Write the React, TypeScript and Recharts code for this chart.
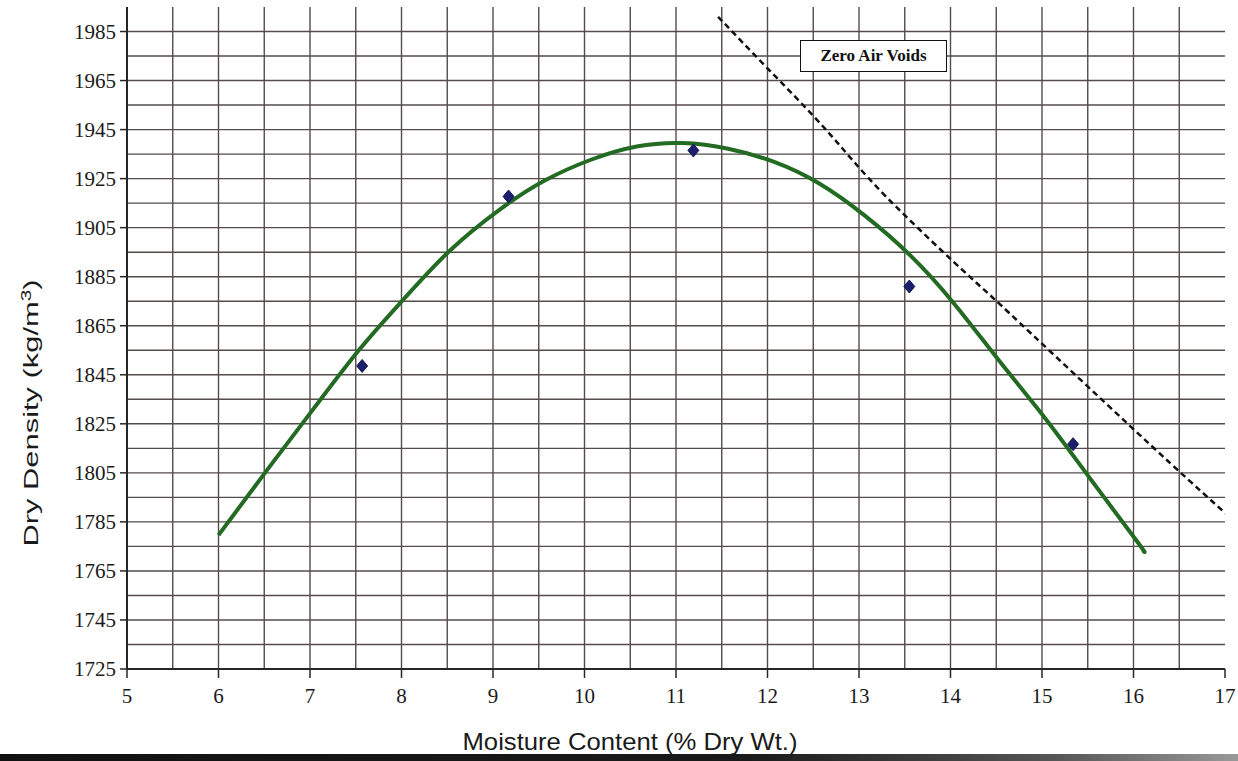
import React from 'react'
import {
  ComposedChart,
  Line,
  Scatter,
  XAxis,
  YAxis,
  ReferenceLine,
  Label,
} from 'recharts'

// axis ticks (labelled) and grid lines (every half unit / every 10 kg/m3)
const xTicks = [5, 6, 7, 8, 9, 10, 11, 12, 13, 14, 15, 16, 17]
const yTicks = [1725, 1745, 1765, 1785, 1805, 1825, 1845, 1865, 1885, 1905, 1925, 1945, 1965, 1985]
const gridX = [5.5, 6, 6.5, 7, 7.5, 8, 8.5, 9, 9.5, 10, 10.5, 11, 11.5, 12, 12.5, 13, 13.5, 14, 14.5, 15, 15.5, 16, 16.5]
const gridY = [1735, 1745, 1755, 1765, 1775, 1785, 1795, 1805, 1815, 1825, 1835, 1845, 1855, 1865, 1875, 1885, 1895, 1905, 1915, 1925, 1935, 1945, 1955, 1965, 1975, 1985]

// test results
const testMoisture = [7.57, 9.17, 11.19, 13.55, 15.34]
const testDensity = [1848.6, 1917.7, 1936.5, 1881, 1816.7]

// fitted compaction curve
const curveMoisture = [6.0, 6.53, 7.04, 7.54, 8.03, 8.53, 9.07, 9.57, 10.07, 10.57, 11.07, 11.57, 12.08, 12.57, 13.06, 13.56, 14.04, 14.53, 15.04, 15.54, 16.05, 16.1]
const curveDensity = [1779.6, 1806.1, 1831.2, 1855.3, 1876.1, 1895.7, 1912.3, 1924.3, 1932.7, 1938.1, 1939.5, 1937.2, 1931.7, 1922.9, 1910, 1893.7, 1874, 1850.8, 1827, 1802, 1776.5, 1773.5]

// zero air voids line
const zavMoisture = [11.46, 12.0, 12.65, 13.3, 14.21, 14.49, 15.42, 16.4, 17.02]
const zavDensity = [1991, 1970, 1944.5, 1917.5, 1885, 1875.5, 1843, 1809, 1788]

const testData = testMoisture.map((x, i) => ({ x, y: testDensity[i] }))
const curveData = curveMoisture.map((x, i) => ({ x, y: curveDensity[i] }))
const zavData = zavMoisture.map((x, i) => ({ x, y: zavDensity[i] }))

const gridColor = '#554b4b'
const axisColor = '#262626'

function Diamond({ cx, cy }: { cx?: number; cy?: number }) {
  if (cx == null || cy == null) return null
  return (
    <path
      d={`M${cx},${cy - 6.5} L${cx + 5.5},${cy} L${cx},${cy + 6.5} L${cx - 5.5},${cy} Z`}
      fill="#1b1f6e"
      stroke="#14174f"
      strokeWidth={1}
    />
  )
}

export default function App() {
  return (
    <div
      style={{
        position: 'absolute',
        left: 0,
        top: 0,
        width: 1238,
        height: 761,
        background: '#fff',
        overflow: 'hidden',
      }}
    >
      <div
        style={{
          position: 'absolute',
          left: 0,
          top: 754,
          width: 1238,
          height: 7,
          background: 'linear-gradient(to right, #111 0%, #1a1a1a 60%, #555 85%, #999 100%)',
        }}
      />
      <div style={{ position: 'relative', zIndex: 1 }}>
        <ComposedChart width={1238} height={761} margin={{ top: 7, right: 13, bottom: 0, left: 0 }}>
          <XAxis
            type="number"
            dataKey="x"
            domain={[5, 17]}
            ticks={xTicks}
            allowDataOverflow
            height={92}
            tickSize={9}
            tickMargin={10}
            axisLine={{ stroke: axisColor, strokeWidth: 2 }}
            tickLine={{ stroke: axisColor, strokeWidth: 1.5 }}
            tick={{ fontFamily: 'Liberation Serif', fontSize: 21, fill: '#1a1a1a' }}
          >
            <Label
              content={() => (
                <text
                  x={630}
                  y={750}
                  textAnchor="middle"
                  fontFamily="Liberation Sans"
                  fontSize={24}
                  fill="#1a1a1a"
                  textLength={335}
                  lengthAdjust="spacingAndGlyphs"
                >
                  Moisture Content (% Dry Wt.)
                </text>
              )}
            />
          </XAxis>
          <YAxis
            type="number"
            dataKey="y"
            domain={[1725, 1995]}
            ticks={yTicks}
            allowDataOverflow
            width={127}
            tickSize={7}
            tickMargin={4}
            axisLine={{ stroke: axisColor, strokeWidth: 2 }}
            tickLine={{ stroke: axisColor, strokeWidth: 1.5 }}
            tick={{ fontFamily: 'Liberation Serif', fontSize: 21, fill: '#1a1a1a' }}
          >
            <Label
              content={() => (
                <text
                  x={38}
                  y={413}
                  transform="rotate(-90, 38, 413)"
                  textAnchor="middle"
                  fontFamily="Liberation Sans"
                  fontSize={21}
                  fill="#1a1a1a"
                  textLength={267}
                  lengthAdjust="spacingAndGlyphs"
                >
                  Dry Density (kg/m<tspan dy={-7} fontSize={14}>3</tspan>
                  <tspan dy={7}>)</tspan>
                </text>
              )}
            />
          </YAxis>

          {gridX.map((v) => (
            <ReferenceLine key={`gx${v}`} x={v} stroke={gridColor} strokeWidth={1.4} />
          ))}
          {gridY.map((v) => (
            <ReferenceLine key={`gy${v}`} y={v} stroke={gridColor} strokeWidth={1.4} />
          ))}

          <Line
            data={zavData}
            dataKey="y"
            type="natural"
            stroke="#111"
            strokeWidth={2.5}
            strokeDasharray="6 4"
            dot={false}
            activeDot={false}
            isAnimationActive={false}
          />
          <Scatter data={testData} dataKey="y" shape={<Diamond />} isAnimationActive={false} />
          <Line
            data={curveData}
            dataKey="y"
            type="natural"
            stroke="#236b23"
            strokeWidth={4}
            dot={false}
            activeDot={false}
            isAnimationActive={false}
          />
        </ComposedChart>

        <div
          style={{
            position: 'absolute',
            left: 800,
            top: 40,
            width: 147,
            height: 32,
            boxSizing: 'border-box',
            border: '1.5px solid #111',
            background: '#fff',
            fontFamily: 'Liberation Serif',
            fontWeight: 'bold',
            fontSize: 17,
            lineHeight: '29px',
            textAlign: 'center',
            color: '#111',
          }}
        >
          Zero Air Voids
        </div>
      </div>
    </div>
  )
}
